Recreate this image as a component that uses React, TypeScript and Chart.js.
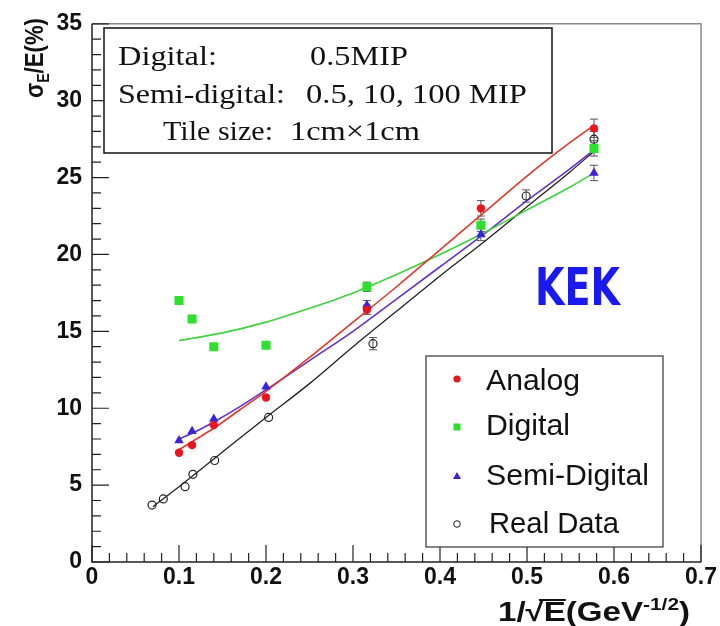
import React, { useEffect, useRef } from "react";
import { Chart, registerables } from "chart.js";
Chart.register(...registerables);

// ---- data ----
const simX = [0.1, 0.115, 0.14, 0.2, 0.316, 0.447, 0.577];
const analogY = [7.1, 7.6, 8.9, 10.7, 16.4, 23.0, 28.2];
const analogErr = [0, 0, 0, 0, 0.3, 0.5, 0.6];
const digitalY = [17.0, 15.8, 14.0, 14.1, 17.9, 21.9, 26.9];
const digitalErr = [0, 0, 0, 0, 0.3, 0.4, 0.5];
const semiY = [7.9, 8.5, 9.3, 11.4, 16.7, 21.3, 25.3];
const semiErr = [0, 0, 0, 0, 0.3, 0.4, 0.5];
const realX = [0.069, 0.082, 0.107, 0.116, 0.141, 0.203, 0.323, 0.499, 0.577];
const realY = [3.7, 4.1, 4.9, 5.7, 6.6, 9.4, 14.2, 23.8, 27.5];
const realErr = [0, 0, 0, 0, 0, 0, 0.4, 0.4, 0.5];

const analogFitX = [0.1, 0.12, 0.14, 0.17, 0.2, 0.25, 0.3, 0.35, 0.4, 0.45, 0.5, 0.55, 0.577];
const analogFitY = [7.3, 8.0, 8.7, 9.9, 11.1, 13.3, 15.6, 17.9, 20.3, 22.7, 25.1, 27.3, 28.4];
const digitalFitX = [0.1, 0.15, 0.2, 0.25, 0.3, 0.35, 0.4, 0.45, 0.5, 0.55, 0.577];
const digitalFitY = [14.4, 14.9, 15.6, 16.5, 17.5, 18.7, 20.0, 21.4, 22.9, 24.4, 25.3];
const semiFitX = [0.1, 0.12, 0.14, 0.17, 0.2, 0.25, 0.3, 0.35, 0.4, 0.45, 0.5, 0.55, 0.577];
const semiFitY = [8.0, 8.5, 9.1, 10.1, 11.2, 13.1, 15.0, 17.1, 19.2, 21.3, 23.5, 25.6, 26.8];
const realFitX = [0.07, 0.1, 0.14, 0.2, 0.25, 0.3, 0.35, 0.4, 0.45, 0.5, 0.55, 0.577];
const realFitY = [3.6, 4.9, 6.7, 9.4, 11.6, 14.0, 16.3, 18.6, 20.8, 23.1, 25.4, 26.7];

const legendLabels = ["Analog", "Digital", "Semi-Digital", "Real Data"];
const infoLines = [
  ["Digital:", "0.5MIP"],
  ["Semi-digital:", "0.5, 10, 100 MIP"],
  ["Tile size:", "1cm\u00d71cm"],
];

const RED = "#e8141e";
const GREEN = "#2ee02e";
const BLUE = "#3a22d8";
const RED_LINE = "#dc3a2c";
const GREEN_LINE = "#3ed23e";
const BLUE_LINE = "#6232c8";
const BLACK_LINE = "#222222";

const toPts = (xs: number[], ys: number[]) => xs.map((x, i) => ({ x, y: ys[i] }));

function fitText(ctx: CanvasRenderingContext2D, text: string, x: number, base: number, width: number, font: string) {
  ctx.save();
  ctx.font = font;
  const w = ctx.measureText(text).width;
  ctx.translate(x, base);
  ctx.scale(width / w, 1);
  ctx.textAlign = "left";
  ctx.textBaseline = "alphabetic";
  ctx.fillText(text, 0, 0);
  ctx.restore();
}

const decor = {
  id: "decor",
  beforeDatasetsDraw(chart: any) {
    const { ctx, chartArea: a, scales } = chart;
    const x = scales.x, y = scales.y;
    ctx.save();
    // frame
    ctx.strokeStyle = "#888";
    ctx.lineWidth = 1.5;
    ctx.beginPath();
    ctx.moveTo(a.left, a.top); ctx.lineTo(a.right, a.top); ctx.lineTo(a.right, a.bottom);
    ctx.stroke();
    ctx.strokeStyle = "#222";
    ctx.beginPath();
    ctx.moveTo(a.left, a.top); ctx.lineTo(a.left, a.bottom); ctx.lineTo(a.right, a.bottom);
    ctx.stroke();
    // ticks inside
    ctx.lineWidth = 1.2;
    ctx.beginPath();
    for (let i = 0; i <= 35; i++) {
      const py = y.getPixelForValue(i);
      const len = i % 5 === 0 ? 17 : 9;
      ctx.moveTo(a.left, py); ctx.lineTo(a.left + len, py);
    }
    for (let i = 0; i <= 35; i++) {
      const px = x.getPixelForValue(i * 0.02);
      const len = i % 5 === 0 ? 17 : 9;
      ctx.moveTo(px, a.bottom); ctx.lineTo(px, a.bottom - len);
    }
    ctx.stroke();
    // error bars
    const series: [number[], number[], number[]][] = [
      [simX, analogY, analogErr], [simX, digitalY, digitalErr], [simX, semiY, semiErr], [realX, realY, realErr],
    ];
    ctx.strokeStyle = "#555";
    ctx.lineWidth = 1;
    ctx.beginPath();
    for (const [xs, ys, es] of series) {
      xs.forEach((xv, i) => {
        if (!es[i]) return;
        const px = x.getPixelForValue(xv);
        const t = y.getPixelForValue(ys[i] + es[i]);
        const b = y.getPixelForValue(ys[i] - es[i]);
        ctx.moveTo(px, t); ctx.lineTo(px, b);
        ctx.moveTo(px - 4, t); ctx.lineTo(px + 4, t);
        ctx.moveTo(px - 4, b); ctx.lineTo(px + 4, b);
      });
    }
    ctx.stroke();
    ctx.restore();
  },
  afterDatasetsDraw(chart: any) {
    const { ctx } = chart;
    ctx.save();
    // info box
    ctx.fillStyle = "#fff";
    ctx.fillRect(104, 28, 448, 125);
    ctx.strokeStyle = "#111";
    ctx.lineWidth = 1.5;
    ctx.strokeRect(104, 28, 448, 125);
    ctx.fillStyle = "#111";
    const serif = "28px 'Liberation Serif', 'Times New Roman', serif";
    fitText(ctx, infoLines[0][0], 118, 65, 99, serif);
    fitText(ctx, infoLines[0][1], 310, 65, 98, serif);
    fitText(ctx, infoLines[1][0], 118, 103, 167, serif);
    fitText(ctx, infoLines[1][1], 306, 103, 221, serif);
    fitText(ctx, infoLines[2][0], 163, 140, 110, serif);
    fitText(ctx, infoLines[2][1], 290, 140, 130, serif);

    // legend
    ctx.fillStyle = "#fff";
    ctx.fillRect(426, 356, 237, 191);
    ctx.strokeStyle = "#333";
    ctx.lineWidth = 1.2;
    ctx.strokeRect(426, 356, 237, 191);
    const sans = "30px 'Liberation Sans', Arial, sans-serif";
    const bases = [390, 435, 485, 533];
    const widths = [94, 84, 163, 130];
    ctx.fillStyle = "#111";
    legendLabels.forEach((l, i) => fitText(ctx, l, i === 3 ? 489 : 486, bases[i], widths[i], sans));
    const mx = 457;
    ctx.fillStyle = RED;
    ctx.beginPath(); ctx.arc(mx, 379, 3.6, 0, Math.PI * 2); ctx.fill();
    ctx.fillStyle = GREEN;
    ctx.fillRect(mx - 3.5, 427 - 3.5, 7, 7);
    ctx.fillStyle = BLUE;
    ctx.beginPath(); ctx.moveTo(mx, 472); ctx.lineTo(mx + 4, 479); ctx.lineTo(mx - 4, 479); ctx.closePath(); ctx.fill();
    ctx.strokeStyle = "#222"; ctx.lineWidth = 1;
    ctx.beginPath(); ctx.arc(mx, 524, 3.3, 0, Math.PI * 2); ctx.stroke();

    // KEK
    ctx.fillStyle = "#1a1af0";
    fitText(ctx, "KEK", 535, 305, 85, "bold 52px 'DejaVu Sans', sans-serif");

    // y title: sigma_E/E(%)
    ctx.fillStyle = "#111";
    ctx.save();
    ctx.translate(43, 98);
    ctx.rotate(-Math.PI / 2);
    const big = "bold 25px 'Liberation Sans', Arial, sans-serif";
    const small = "bold 16px 'Liberation Sans', Arial, sans-serif";
    ctx.font = big; const w1 = ctx.measureText("\u03c3").width;
    ctx.font = small; const w2 = ctx.measureText("E").width;
    ctx.font = big; const w3 = ctx.measureText("/E(%)").width;
    const sy = 80 / (w1 + w2 + w3);
    ctx.scale(sy, 1);
    ctx.textBaseline = "alphabetic";
    ctx.font = big; ctx.fillText("\u03c3", 0, 0);
    ctx.font = small; ctx.fillText("E", w1, 6);
    ctx.font = big; ctx.fillText("/E(%)", w1 + w2, 0);
    ctx.restore();

    // x title: 1/sqrt(E) (GeV^-1/2)
    ctx.save();
    const xb = "bold 27px 'Liberation Sans', Arial, sans-serif";
    const xs = "bold 17px 'Liberation Sans', Arial, sans-serif";
    ctx.font = xb;
    const p1 = "1/\u221a", p2 = "E", p3 = "(GeV", p5 = ")";
    const a1 = ctx.measureText(p1).width, a2 = ctx.measureText(p2).width, a3 = ctx.measureText(p3).width, a5 = ctx.measureText(p5).width;
    ctx.font = xs; const a4 = ctx.measureText("-1/2").width;
    const tot = a1 + a2 + a3 + a4 + a5;
    const sx = 192 / tot;
    ctx.translate(498, 621);
    ctx.scale(sx, 1);
    ctx.textBaseline = "alphabetic";
    ctx.font = xb; ctx.fillText(p1, 0, 0);
    ctx.fillText(p2, a1, 0);
    ctx.strokeStyle = "#111"; ctx.lineWidth = 2;
    ctx.beginPath(); ctx.moveTo(a1 - 4, -21); ctx.lineTo(a1 + a2, -21); ctx.stroke();
    ctx.fillText(p3, a1 + a2, 0);
    ctx.font = xs; ctx.fillText("-1/2", a1 + a2 + a3, -11);
    ctx.font = xb; ctx.fillText(p5, a1 + a2 + a3 + a4, 0);
    ctx.restore();

    ctx.restore();
  },
};

export default function App() {
  const ref = useRef<HTMLCanvasElement>(null);
  useEffect(() => {
    const tickFont = { family: "'Liberation Sans', Arial, sans-serif", size: 23, weight: "bold" as const };
    const lineCommon = { showLine: true, pointRadius: 0, cubicInterpolationMode: "monotone" as const, order: 2 };
    const chart = new Chart(ref.current!, {
      type: "scatter",
      data: {
        datasets: [
          { label: "AnalogFit", data: toPts(analogFitX, analogFitY), borderColor: RED_LINE, borderWidth: 1.6, ...lineCommon },
          { label: "DigitalFit", data: toPts(digitalFitX, digitalFitY), borderColor: GREEN_LINE, borderWidth: 1.6, ...lineCommon },
          { label: "SemiFit", data: toPts(semiFitX, semiFitY), borderColor: BLUE_LINE, borderWidth: 1.6, ...lineCommon },
          { label: "RealFit", data: toPts(realFitX, realFitY), borderColor: BLACK_LINE, borderWidth: 1.3, ...lineCommon },
          { label: "Analog", data: toPts(simX, analogY), pointStyle: "circle", pointRadius: 4.2, backgroundColor: RED, borderColor: RED, borderWidth: 0, order: 1 },
          { label: "Digital", data: toPts(simX, digitalY), pointStyle: "rect", pointRadius: 6.4, backgroundColor: GREEN, borderColor: GREEN, borderWidth: 0, order: 1 },
          { label: "Semi-Digital", data: toPts(simX, semiY), pointStyle: "triangle", pointRadius: 5.5, backgroundColor: BLUE, borderColor: BLUE, borderWidth: 0, order: 1 },
          { label: "Real Data", data: toPts(realX, realY), pointStyle: "circle", pointRadius: 4, backgroundColor: "rgba(255,255,255,0)", borderColor: "#222", borderWidth: 1.2, order: 1 },
        ],
      },
      options: {
        responsive: false,
        devicePixelRatio: 1,
        animation: false,
        layout: { padding: { left: 0, top: 17, right: 19, bottom: 0 } },
        plugins: { legend: { display: false }, tooltip: { enabled: false } },
        scales: {
          x: {
            type: "linear", min: 0, max: 0.7,
            grid: { display: false, drawTicks: false },
            border: { display: false },
            ticks: { stepSize: 0.1, padding: 2, color: "#111", font: tickFont, maxRotation: 0,
              callback: (v: any) => (Number(v) === 0 ? "0" : Number(v).toFixed(1)) },
            afterFit: (s: any) => { s.height = 64; },
          },
          y: {
            type: "linear", min: 0, max: 35,
            grid: { display: false, drawTicks: false },
            border: { display: false },
            ticks: { stepSize: 5, padding: 10, color: "#111", font: tickFont, callback: (v: any) => String(v) },
            afterFit: (s: any) => { s.width = 92; },
          },
        },
      },
      plugins: [decor],
    });
    return () => chart.destroy();
  }, []);
  return (
    <div style={{ position: "absolute", left: 0, top: 0, width: 720, height: 626, background: "#fff" }}>
      <canvas ref={ref} width={720} height={626} style={{ display: "block", width: 720, height: 626 }} />
    </div>
  );
}
